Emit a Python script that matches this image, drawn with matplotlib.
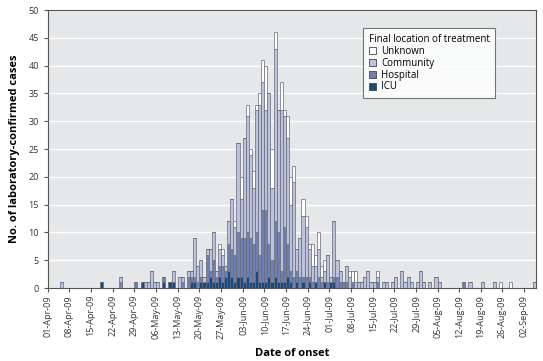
import numpy as np
import pandas as pd
import matplotlib
matplotlib.use("Agg")
import matplotlib.pyplot as plt
from matplotlib.patches import Patch

plt.rcParams['font.family'] = ['Open Sans', 'DejaVu Sans']

# day offsets from 01-Apr-09 with at least one case
day = [4, 17, 23, 28, 30, 31, 32, 33, 34, 35, 37, 39, 40, 42, 43, 45, 46, 47, 48, 49,
       50, 51, 52, 53, 54, 55, 56, 57, 58, 59, 60, 61, 62, 63, 64, 65, 66, 67, 68, 69,
       70, 71, 72, 73, 74, 75, 76, 77, 78, 79, 80, 81, 82, 83, 84, 85, 86, 87, 88, 89,
       90, 91, 92, 93, 94, 95, 96, 97, 98, 99, 100, 101, 102, 103, 104, 105, 106, 108, 109, 111,
       112, 114, 115, 116, 117, 119, 120, 121, 123, 125, 126, 134, 136, 140, 144, 146, 149, 157]
icu = [0, 1, 0, 0, 1, 0, 0, 0, 0, 0, 1, 1, 1, 0, 0, 0, 1, 1, 0, 1,
       1, 1, 2, 1, 1, 2, 1, 2, 3, 2, 1, 2, 2, 1, 2, 1, 1, 3, 1, 1,
       1, 2, 1, 2, 1, 1, 1, 2, 1, 0, 1, 0, 1, 0, 1, 0, 1, 0, 0, 1,
       0, 1, 1, 0, 0, 0, 0, 0, 0, 0, 0, 0, 0, 0, 0, 0, 0, 0, 0, 0,
       0, 0, 0, 0, 0, 0, 0, 0, 0, 0, 0, 0, 0, 0, 0, 0, 0, 0]
hospital = [0, 0, 1, 1, 0, 0, 0, 0, 0, 0, 1, 0, 0, 0, 1, 2, 1, 1, 1, 1,
            0, 5, 1, 4, 1, 2, 3, 1, 5, 5, 5, 8, 7, 8, 8, 8, 7, 7, 5, 13,
            13, 6, 4, 10, 9, 2, 10, 6, 2, 2, 2, 2, 1, 2, 1, 1, 0, 2, 1, 0,
            1, 0, 1, 2, 1, 1, 1, 0, 1, 0, 0, 0, 0, 0, 0, 0, 1, 0, 0, 0,
            0, 0, 0, 0, 0, 0, 0, 0, 0, 0, 0, 1, 0, 0, 0, 0, 0, 0]
community = [1, 0, 1, 0, 0, 1, 1, 3, 1, 1, 0, 0, 2, 2, 1, 1, 1, 7, 3, 3,
             1, 1, 4, 5, 1, 3, 2, 1, 4, 9, 5, 16, 7, 18, 21, 15, 10, 22, 27, 23,
             18, 27, 13, 31, 22, 29, 20, 19, 12, 17, 4, 7, 11, 9, 5, 3, 3, 5, 1, 2,
             5, 1, 10, 3, 2, 0, 3, 2, 0, 1, 1, 1, 2, 3, 1, 1, 1, 1, 1, 1,
             2, 3, 1, 2, 1, 1, 3, 1, 1, 2, 1, 0, 1, 1, 1, 0, 0, 1]
unknown = [0, 0, 0, 0, 0, 0, 0, 0, 0, 0, 0, 0, 0, 0, 0, 0, 0, 0, 0, 0,
           0, 0, 0, 0, 0, 1, 1, 0, 0, 0, 1, 0, 4, 0, 2, 1, 3, 1, 2, 4,
           8, 0, 7, 3, 0, 5, 1, 4, 5, 3, 0, 0, 3, 2, 1, 4, 2, 3, 2, 2,
           0, 0, 0, 0, 0, 0, 0, 1, 2, 2, 0, 0, 0, 0, 0, 0, 1, 0, 0, 0,
           0, 0, 0, 0, 0, 0, 0, 0, 0, 0, 0, 0, 0, 0, 0, 1, 1, 0]

start = pd.Timestamp("2009-04-01")
n_days = 158

x = np.array(day)
icu = np.array(icu)
hospital = np.array(hospital)
community = np.array(community)
unknown = np.array(unknown)

c_icu = '#164a7e'
c_hosp = '#6f7faf'
c_comm = '#bcc2dc'
c_unk = '#ffffff'
edge = '#666a78'

fig = plt.figure(figsize=(5.43, 3.61), dpi=100)
ax = fig.add_axes([0.088, 0.2022, 0.9, 0.7700])
ax.set_facecolor('#e6e7e9')

kw = dict(width=1.0, align='edge', edgecolor=edge, linewidth=0.5, zorder=3)
b0 = np.zeros(len(x))
ax.bar(x, icu, bottom=b0, color=c_icu, **kw)
b0 = b0 + icu
ax.bar(x, hospital, bottom=b0, color=c_hosp, **kw)
b0 = b0 + hospital
ax.bar(x, community, bottom=b0, color=c_comm, **kw)
b0 = b0 + community
ax.bar(x, unknown, bottom=b0, color=c_unk, **kw)

ax.set_xlim(0, n_days)
ax.set_ylim(0, 50)
ax.set_yticks(range(0, 51, 5))
ax.yaxis.grid(True, color='white', linewidth=1.0, zorder=0)
ax.set_axisbelow(True)

ticks = list(range(0, n_days, 7))
labels = [(start + pd.Timedelta(days=t)).strftime('%d-%b-%y') for t in ticks]
ax.set_xticks(ticks)
ax.set_xticklabels(labels, rotation=90, fontsize=6.5, color='#333333')
ax.tick_params(axis='y', labelsize=6.5, labelcolor='#333333', length=3, color='#555555')
ax.tick_params(axis='x', length=3, color='#555555', pad=2)
for s in ax.spines.values():
    s.set_color('#555555')
    s.set_linewidth(0.8)

ax.set_ylabel('No. of laboratory-confirmed cases', fontsize=8, fontweight='bold', labelpad=6)
ax.set_xlabel('Date of onset', fontsize=8, fontweight='bold', labelpad=6)

handles = [Patch(facecolor=c, edgecolor='#444444', linewidth=0.6) for c in (c_unk, c_comm, c_hosp, c_icu)]
leg = ax.legend(handles, ['Unknown', 'Community', 'Hospital', 'ICU'],
                title='Final location of treatment', loc='upper left',
                bbox_to_anchor=(0.636, 0.952), fontsize=7, title_fontsize=7,
                frameon=True, fancybox=False, handlelength=0.75, handleheight=0.75,
                handletextpad=0.5, labelspacing=0.1, borderpad=0.55, alignment='left')
leg.get_frame().set_edgecolor('#555555')
leg.get_frame().set_linewidth(0.8)

fig.savefig('out.png', dpi=100)
